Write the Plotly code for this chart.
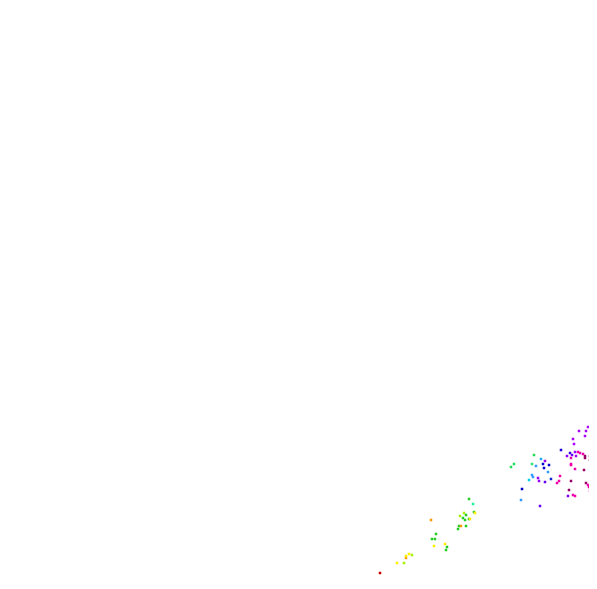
import plotly.graph_objects as go

# Point positions (data units) and colour values
x = [380, 397, 404, 406, 406, 409, 412, 434, 445, 447, 446, 436, 432, 435, 431,
     469, 473, 464, 466, 474, 475, 460, 463, 465, 469, 470, 466, 459, 461, 458,
     534, 514, 511, 532, 541, 545, 543, 549, 544, 536, 548, 532, 533, 529, 538,
     539, 545, 522, 521, 540,
     588, 592, 579, 586, 585, 573, 574, 592, 595, 561, 570, 572, 578, 580, 575,
     583, 585, 590, 590, 585, 567, 571, 576, 571,
     571, 575, 584, 560, 551, 559, 571, 557, 586, 588, 589, 590, 569, 573, 575, 568]
y = [573, 563, 563, 558, 556, 554, 555, 546, 544, 547, 550, 534, 539, 539, 520,
     499, 504, 513, 515, 512, 513, 516, 518, 520, 519, 519, 526, 526, 526, 529,
     455, 464, 467, 464, 459, 461, 464, 465, 468, 466, 472, 475, 477, 480, 478,
     481, 482, 489, 500, 506,
     427, 431, 431, 431, 436, 439, 444, 447, 447, 450, 453, 455, 452, 453, 452,
     454, 456, 456, 460, 458, 456, 458, 456, 464,
     465, 469, 470, 476, 479, 481, 481, 483, 483, 485, 487, 491, 490, 495, 496, 496]
hue = [0.00, 0.16, 0.22, 0.08, 0.16, 0.16, 0.22, 0.16, 0.16, 0.33, 0.33, 0.33, 0.33, 0.33, 0.08,
       0.33, 0.40, 0.22, 0.33, 0.33, 0.16, 0.22, 0.33, 0.33, 0.33, 0.16, 0.33, 0.33, 0.08, 0.33,
       0.36, 0.36, 0.36, 0.38, 0.50, 0.72, 0.60, 0.60, 0.60, 0.52, 0.52, 0.52, 0.52, 0.47, 0.72,
       0.72, 0.68, 0.60, 0.52, 0.68,
       0.74, 0.86, 0.74, 0.74, 0.74, 0.74, 0.74, 0.86, 0.86, 0.62, 0.64, 0.68, 0.86, 0.86, 0.72,
       0.86, 0.95, 0.95, 0.95, 0.95, 0.72, 0.86, 0.74, 0.86,
       0.86, 0.86, 0.95, 0.86, 0.58, 0.86, 0.95, 0.86, 0.95, 0.86, 0.86, 0.86, 0.95, 0.86, 0.86, 0.70]

colorscale = [
    [0.00, "#cc0000"], [0.08, "#ff9900"], [0.16, "#ffee00"], [0.22, "#aaee00"],
    [0.33, "#22cc22"], [0.40, "#22ee99"], [0.47, "#00ccee"], [0.52, "#3399ff"],
    [0.60, "#0000cc"], [0.68, "#6600ff"], [0.74, "#aa00ff"], [0.86, "#ee00aa"],
    [0.95, "#990066"], [1.00, "#880055"],
]

fig = go.Figure(go.Scatter(
    x=x, y=y, mode="markers",
    marker=dict(symbol="square", size=2.5, color=hue, colorscale=colorscale,
                cmin=0, cmax=1, line=dict(width=0)),
    hoverinfo="skip",
))
fig.update_layout(
    width=589, height=581,
    margin=dict(l=0, r=0, t=0, b=0),
    paper_bgcolor="white", plot_bgcolor="white",
    showlegend=False,
    xaxis=dict(range=[8, 597], visible=False, fixedrange=True),
    yaxis=dict(range=[589, 8], visible=False, fixedrange=True),
)
fig.write_html("out.html", config={"displayModeBar": False})
